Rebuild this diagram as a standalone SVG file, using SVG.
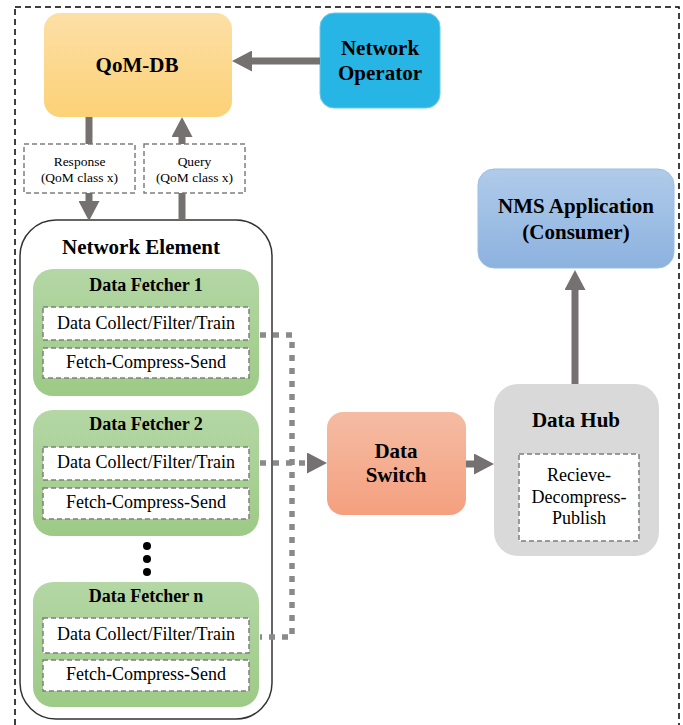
<svg xmlns="http://www.w3.org/2000/svg" width="683" height="725" viewBox="0 0 683 725">
<style>
text{font-family:"Liberation Serif","Times New Roman",serif;text-anchor:middle;fill:#000}
.b{font-weight:bold;font-size:21px}
.arrow{stroke:#767171;stroke-width:7;fill:none}
.dot{stroke:#8a8a8a;stroke-width:5.5;stroke-dasharray:6 7;fill:none}
.dash{fill:#fff;stroke:#7f7f7f;stroke-width:1.5;stroke-dasharray:5 3}
.df{fill:url(#gGreen)}
.it{font-size:18px}
.dt{font-size:18px;font-weight:bold}
.sm{font-size:13.5px}
</style>
<defs>
<linearGradient id="gOrange" x1="0" y1="0" x2="0" y2="1"><stop offset="0" stop-color="#fddfa6"/><stop offset="1" stop-color="#fcd277"/></linearGradient>
<linearGradient id="gBlue" x1="0" y1="0" x2="0" y2="1"><stop offset="0" stop-color="#b0cbea"/><stop offset="1" stop-color="#8cb2df"/></linearGradient>
<linearGradient id="gSalmon" x1="0" y1="0" x2="0" y2="1"><stop offset="0" stop-color="#f5bca3"/><stop offset="1" stop-color="#f4a07f"/></linearGradient>
<linearGradient id="gGreen" x1="0" y1="0" x2="0" y2="1"><stop offset="0" stop-color="#b4d7a5"/><stop offset="1" stop-color="#9dca86"/></linearGradient>
<marker id="ah" markerUnits="userSpaceOnUse" markerWidth="20" markerHeight="21" refX="0" refY="10.5" orient="auto" viewBox="0 0 20 21"><path d="M0,0 L20,10.5 L0,21 Z" fill="#767171"/></marker>
</defs>

<rect x="15" y="7" width="664" height="740" fill="none" stroke="#000" stroke-width="1.5" stroke-dasharray="6 4"/>

<g id="qomdb">
<rect x="44" y="13" width="188" height="104" rx="16" fill="url(#gOrange)"/>
<text x="137" y="72" class="b">QoM-DB</text>
</g>

<g id="network-operator">
<rect x="320" y="13" width="120" height="95" rx="14" fill="#26b5e4" stroke="#6cc8ea" stroke-width="1"/>
<text x="380" y="55" class="b">Network</text>
<text x="380" y="80" class="b">Operator</text>
</g>

<g id="response-label">
<rect x="24" y="144" width="111" height="49" class="dash"/>
<text x="79.5" y="166" class="sm">Response</text>
<text x="79.5" y="182" class="sm">(QoM class x)</text>
</g>

<g id="query-label">
<rect x="144" y="144" width="101" height="49" class="dash"/>
<text x="194.5" y="166" class="sm">Query</text>
<text x="194.5" y="182" class="sm">(QoM class x)</text>
</g>

<g id="network-element">
<rect x="20" y="220" width="252" height="499" rx="36" fill="#fff" stroke="#333" stroke-width="1.5"/>
<text x="141" y="254" class="b">Network Element</text>
<circle cx="147" cy="546" r="4" fill="#000"/>
<circle cx="147" cy="559" r="4" fill="#000"/>
<circle cx="147" cy="572" r="4" fill="#000"/>
</g>

<g id="data-fetcher-1" transform="translate(0,269)">
<rect x="33" y="0" width="226" height="127" rx="20" class="df"/>
<text x="146" y="22" class="dt">Data Fetcher 1</text>
<rect x="43" y="38" width="206" height="33" class="dash"/>
<text x="146" y="60" class="it">Data Collect/Filter/Train</text>
<rect x="43" y="79" width="206" height="30" class="dash"/>
<text x="146" y="99" class="it">Fetch-Compress-Send</text>
</g>

<g id="data-fetcher-2" transform="translate(0,410)">
<rect x="33" y="0" width="226" height="126" rx="20" class="df"/>
<text x="146" y="20" class="dt">Data Fetcher 2</text>
<rect x="43" y="37" width="206" height="33" class="dash"/>
<text x="146" y="58" class="it">Data Collect/Filter/Train</text>
<rect x="43" y="78" width="206" height="31" class="dash"/>
<text x="146" y="98" class="it">Fetch-Compress-Send</text>
</g>

<g id="data-fetcher-n" transform="translate(0,582)">
<rect x="33" y="0" width="226" height="125" rx="20" class="df"/>
<text x="146" y="20" class="dt">Data Fetcher n</text>
<rect x="43" y="36" width="206" height="35" class="dash"/>
<text x="146" y="58" class="it">Data Collect/Filter/Train</text>
<rect x="43" y="78" width="206" height="31" class="dash"/>
<text x="146" y="98" class="it">Fetch-Compress-Send</text>
</g>

<g id="data-switch">
<rect x="327" y="412" width="139" height="103" rx="16" fill="url(#gSalmon)"/>
<text x="396" y="458" class="b">Data</text>
<text x="396" y="482" class="b">Switch</text>
</g>

<g id="data-hub">
<rect x="494" y="384" width="165" height="172" rx="24" fill="#d9d9d9"/>
<text x="576" y="427" class="b">Data Hub</text>
<rect x="519" y="454" width="120" height="87" class="dash"/>
<text x="579" y="481" class="it">Recieve-</text>
<text x="579" y="503" class="it">Decompress-</text>
<text x="579" y="524" class="it">Publish</text>
</g>

<g id="nms-application">
<rect x="478" y="169" width="196" height="99" rx="16" fill="url(#gBlue)" stroke="#9dbde3" stroke-width="1"/>
<text x="576" y="213" class="b">NMS Application</text>
<text x="576" y="239" class="b">(Consumer)</text>
</g>

<g id="connectors">
<line x1="320" y1="61" x2="252" y2="61" class="arrow" marker-end="url(#ah)"/>
<line x1="89" y1="117" x2="89" y2="144" class="arrow"/>
<line x1="89" y1="193" x2="89" y2="201" class="arrow" marker-end="url(#ah)"/>
<line x1="182" y1="220" x2="182" y2="193" class="arrow"/>
<line x1="182" y1="144" x2="182" y2="137" class="arrow" marker-end="url(#ah)"/>
<path d="M260,335 H292 V637 H260" class="dot"/>
<line x1="260" y1="463" x2="307" y2="463" class="dot" marker-end="url(#ah)"/>
<line x1="466" y1="464" x2="474" y2="464" class="arrow" marker-end="url(#ah)"/>
<line x1="575" y1="384" x2="575" y2="290" class="arrow" marker-end="url(#ah)"/>
</g>
</svg>
